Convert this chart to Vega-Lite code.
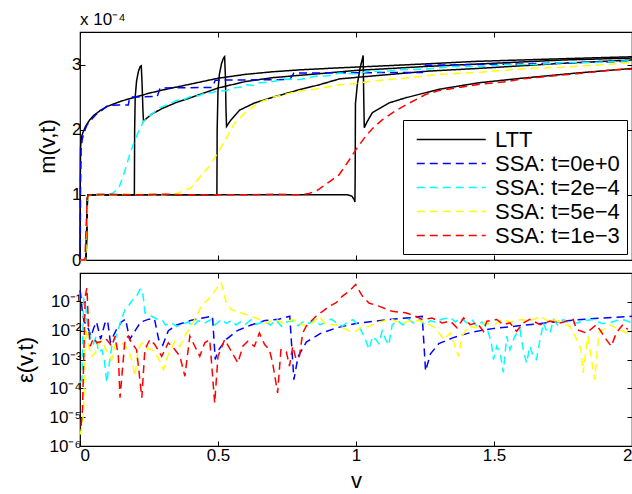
{
  "$schema": "https://vega.github.io/schema/vega-lite/v6.json",
  "padding": {"left": 14, "top": 9, "right": 0, "bottom": 0},
  "spacing": 13,
  "bounds": "flush",
  "config": {
    "font": "Liberation Sans",
    "view": {"stroke": "#000", "strokeWidth": 1.2},
    "axis": {"domain": false, "grid": false, "tickColor": "#000", "tickSize": -5, "tickWidth": 1, "labelColor": "#000", "labelFontSize": 17, "titleFontSize": 22, "titleFontWeight": "normal", "titleColor": "#000", "labelPadding": 4}
  },
  "datasets": {
    "top": [
      {"series":"LTT","t":"0","v":0,"m":0},{"series":"LTT","t":"0","v":0.0005,"m":0.6},{"series":"LTT","t":"0","v":0.001,"m":1.2},{"series":"LTT","t":"0","v":0.002,"m":1.72},{"series":"LTT","t":"0","v":0.004,"m":1.84},{"series":"LTT","t":"0","v":0.007,"m":1.91},{"series":"LTT","t":"0","v":0.01,"m":1.95},{"series":"LTT","t":"0","v":0.02,"m":2.05},{"series":"LTT","t":"0","v":0.035,"m":2.15},{"series":"LTT","t":"0","v":0.05,"m":2.22},{"series":"LTT","t":"0","v":0.075,"m":2.3},{"series":"LTT","t":"0","v":0.1,"m":2.36},{"series":"LTT","t":"0","v":0.15,"m":2.44},{"series":"LTT","t":"0","v":0.2,"m":2.5},{"series":"LTT","t":"0","v":0.25,"m":2.56},{"series":"LTT","t":"0","v":0.3,"m":2.61},{"series":"LTT","t":"0","v":0.4,"m":2.7},{"series":"LTT","t":"0","v":0.5,"m":2.79},{"series":"LTT","t":"0","v":0.6,"m":2.85},{"series":"LTT","t":"0","v":0.7,"m":2.89},{"series":"LTT","t":"0","v":0.8,"m":2.92},{"series":"LTT","t":"0","v":0.94,"m":2.95},{"series":"LTT","t":"0","v":1.1,"m":2.98},{"series":"LTT","t":"0","v":1.25,"m":3.01},{"series":"LTT","t":"0","v":1.44,"m":3.05},{"series":"LTT","t":"0","v":1.75,"m":3.09},{"series":"LTT","t":"0","v":2.0,"m":3.12},
      {"series":"LTT","t":"2e-4","v":0,"m":0},{"series":"LTT","t":"2e-4","v":0.022,"m":0},{"series":"LTT","t":"2e-4","v":0.025,"m":0.6},{"series":"LTT","t":"2e-4","v":0.027,"m":0.95},{"series":"LTT","t":"2e-4","v":0.03,"m":1.0},{"series":"LTT","t":"2e-4","v":0.197,"m":1.0},{"series":"LTT","t":"2e-4","v":0.198,"m":2.0},{"series":"LTT","t":"2e-4","v":0.2,"m":2.5},{"series":"LTT","t":"2e-4","v":0.205,"m":2.75},{"series":"LTT","t":"2e-4","v":0.212,"m":2.9},{"series":"LTT","t":"2e-4","v":0.218,"m":2.97},{"series":"LTT","t":"2e-4","v":0.222,"m":2.98},{"series":"LTT","t":"2e-4","v":0.225,"m":2.7},{"series":"LTT","t":"2e-4","v":0.228,"m":2.3},{"series":"LTT","t":"2e-4","v":0.23,"m":2.13},{"series":"LTT","t":"2e-4","v":0.24,"m":2.17},{"series":"LTT","t":"2e-4","v":0.26,"m":2.24},{"series":"LTT","t":"2e-4","v":0.3,"m":2.33},{"series":"LTT","t":"2e-4","v":0.35,"m":2.42},{"series":"LTT","t":"2e-4","v":0.4,"m":2.49},{"series":"LTT","t":"2e-4","v":0.5,"m":2.64},{"series":"LTT","t":"2e-4","v":0.6,"m":2.74},{"series":"LTT","t":"2e-4","v":0.7,"m":2.8},{"series":"LTT","t":"2e-4","v":0.867,"m":2.86},{"series":"LTT","t":"2e-4","v":1.0,"m":2.91},{"series":"LTT","t":"2e-4","v":1.25,"m":2.97},{"series":"LTT","t":"2e-4","v":1.5,"m":3.02},{"series":"LTT","t":"2e-4","v":1.75,"m":3.07},{"series":"LTT","t":"2e-4","v":2.0,"m":3.1},
      {"series":"LTT","t":"5e-4","v":0,"m":0},{"series":"LTT","t":"5e-4","v":0.022,"m":0},{"series":"LTT","t":"5e-4","v":0.025,"m":0.6},{"series":"LTT","t":"5e-4","v":0.027,"m":0.95},{"series":"LTT","t":"5e-4","v":0.03,"m":1.0},{"series":"LTT","t":"5e-4","v":0.496,"m":1.0},{"series":"LTT","t":"5e-4","v":0.497,"m":2.0},{"series":"LTT","t":"5e-4","v":0.5,"m":2.6},{"series":"LTT","t":"5e-4","v":0.505,"m":2.85},{"series":"LTT","t":"5e-4","v":0.513,"m":3.02},{"series":"LTT","t":"5e-4","v":0.52,"m":3.1},{"series":"LTT","t":"5e-4","v":0.524,"m":3.12},{"series":"LTT","t":"5e-4","v":0.527,"m":2.8},{"series":"LTT","t":"5e-4","v":0.529,"m":2.3},{"series":"LTT","t":"5e-4","v":0.531,"m":2.05},{"series":"LTT","t":"5e-4","v":0.545,"m":2.14},{"series":"LTT","t":"5e-4","v":0.578,"m":2.3},{"series":"LTT","t":"5e-4","v":0.632,"m":2.41},{"series":"LTT","t":"5e-4","v":0.7,"m":2.5},{"series":"LTT","t":"5e-4","v":0.8,"m":2.62},{"series":"LTT","t":"5e-4","v":0.867,"m":2.69},{"series":"LTT","t":"5e-4","v":0.94,"m":2.78},{"series":"LTT","t":"5e-4","v":1.1,"m":2.84},{"series":"LTT","t":"5e-4","v":1.264,"m":2.9},{"series":"LTT","t":"5e-4","v":1.44,"m":2.94},{"series":"LTT","t":"5e-4","v":1.75,"m":3.02},{"series":"LTT","t":"5e-4","v":2.0,"m":3.07},
      {"series":"LTT","t":"1e-3","v":0,"m":0},{"series":"LTT","t":"1e-3","v":0.022,"m":0},{"series":"LTT","t":"1e-3","v":0.025,"m":0.6},{"series":"LTT","t":"1e-3","v":0.027,"m":0.95},{"series":"LTT","t":"1e-3","v":0.03,"m":1.0},{"series":"LTT","t":"1e-3","v":0.97,"m":1.0},{"series":"LTT","t":"1e-3","v":0.985,"m":0.98},{"series":"LTT","t":"1e-3","v":0.993,"m":0.93},{"series":"LTT","t":"1e-3","v":0.996,"m":0.89},{"series":"LTT","t":"1e-3","v":0.997,"m":1.3},{"series":"LTT","t":"1e-3","v":0.998,"m":2.4},{"series":"LTT","t":"1e-3","v":1.005,"m":2.7},{"series":"LTT","t":"1e-3","v":1.015,"m":2.95},{"series":"LTT","t":"1e-3","v":1.026,"m":3.14},{"series":"LTT","t":"1e-3","v":1.028,"m":2.5},{"series":"LTT","t":"1e-3","v":1.03,"m":2.03},{"series":"LTT","t":"1e-3","v":1.04,"m":2.12},{"series":"LTT","t":"1e-3","v":1.059,"m":2.26},{"series":"LTT","t":"1e-3","v":1.119,"m":2.41},{"series":"LTT","t":"1e-3","v":1.18,"m":2.49},{"series":"LTT","t":"1e-3","v":1.3,"m":2.62},{"series":"LTT","t":"1e-3","v":1.444,"m":2.72},{"series":"LTT","t":"1e-3","v":1.6,"m":2.79},{"series":"LTT","t":"1e-3","v":1.8,"m":2.87},{"series":"LTT","t":"1e-3","v":2.0,"m":2.94},
      {"series":"SSA: t=0e+0","v":0,"m":0},{"series":"SSA: t=0e+0","v":0.001,"m":0.3},{"series":"SSA: t=0e+0","v":0.002,"m":1.2},{"series":"SSA: t=0e+0","v":0.004,"m":1.7},{"series":"SSA: t=0e+0","v":0.008,"m":1.85},{"series":"SSA: t=0e+0","v":0.015,"m":1.97},{"series":"SSA: t=0e+0","v":0.025,"m":2.07},{"series":"SSA: t=0e+0","v":0.04,"m":2.15},{"series":"SSA: t=0e+0","v":0.06,"m":2.24},{"series":"SSA: t=0e+0","v":0.08,"m":2.3},{"series":"SSA: t=0e+0","v":0.1,"m":2.37},{"series":"SSA: t=0e+0","v":0.14,"m":2.38},{"series":"SSA: t=0e+0","v":0.175,"m":2.38},{"series":"SSA: t=0e+0","v":0.18,"m":2.5},{"series":"SSA: t=0e+0","v":0.28,"m":2.51},{"series":"SSA: t=0e+0","v":0.29,"m":2.64},{"series":"SSA: t=0e+0","v":0.48,"m":2.65},{"series":"SSA: t=0e+0","v":0.49,"m":2.76},{"series":"SSA: t=0e+0","v":0.76,"m":2.77},{"series":"SSA: t=0e+0","v":0.775,"m":2.87},{"series":"SSA: t=0e+0","v":1.24,"m":2.88},{"series":"SSA: t=0e+0","v":1.252,"m":2.99},{"series":"SSA: t=0e+0","v":1.6,"m":3.01},{"series":"SSA: t=0e+0","v":2.0,"m":3.05},
      {"series":"SSA: t=2e−4","v":0,"m":0},{"series":"SSA: t=2e−4","v":0.02,"m":0},{"series":"SSA: t=2e−4","v":0.024,"m":0.5},{"series":"SSA: t=2e−4","v":0.028,"m":0.97},{"series":"SSA: t=2e−4","v":0.035,"m":1.0},{"series":"SSA: t=2e−4","v":0.06,"m":1.01},{"series":"SSA: t=2e−4","v":0.1,"m":1.0},{"series":"SSA: t=2e−4","v":0.12,"m":1.03},{"series":"SSA: t=2e−4","v":0.14,"m":1.1},{"series":"SSA: t=2e−4","v":0.16,"m":1.33},{"series":"SSA: t=2e−4","v":0.18,"m":1.62},{"series":"SSA: t=2e−4","v":0.195,"m":1.8},{"series":"SSA: t=2e−4","v":0.21,"m":1.95},{"series":"SSA: t=2e−4","v":0.23,"m":2.13},{"series":"SSA: t=2e−4","v":0.26,"m":2.24},{"series":"SSA: t=2e−4","v":0.29,"m":2.34},{"series":"SSA: t=2e−4","v":0.32,"m":2.39},{"series":"SSA: t=2e−4","v":0.35,"m":2.45},{"series":"SSA: t=2e−4","v":0.38,"m":2.47},{"series":"SSA: t=2e−4","v":0.4,"m":2.51},{"series":"SSA: t=2e−4","v":0.43,"m":2.52},{"series":"SSA: t=2e−4","v":0.45,"m":2.56},{"series":"SSA: t=2e−4","v":0.48,"m":2.57},{"series":"SSA: t=2e−4","v":0.5,"m":2.6},{"series":"SSA: t=2e−4","v":0.53,"m":2.6},{"series":"SSA: t=2e−4","v":0.55,"m":2.64},{"series":"SSA: t=2e−4","v":0.58,"m":2.65},{"series":"SSA: t=2e−4","v":0.6,"m":2.69},{"series":"SSA: t=2e−4","v":0.63,"m":2.68},{"series":"SSA: t=2e−4","v":0.65,"m":2.72},{"series":"SSA: t=2e−4","v":0.7,"m":2.74},{"series":"SSA: t=2e−4","v":0.75,"m":2.78},{"series":"SSA: t=2e−4","v":0.8,"m":2.77},{"series":"SSA: t=2e−4","v":0.85,"m":2.82},{"series":"SSA: t=2e−4","v":0.9,"m":2.83},{"series":"SSA: t=2e−4","v":0.94,"m":2.87},{"series":"SSA: t=2e−4","v":1.0,"m":2.86},{"series":"SSA: t=2e−4","v":1.05,"m":2.9},{"series":"SSA: t=2e−4","v":1.1,"m":2.89},{"series":"SSA: t=2e−4","v":1.15,"m":2.92},{"series":"SSA: t=2e−4","v":1.25,"m":2.93},{"series":"SSA: t=2e−4","v":1.35,"m":2.97},{"series":"SSA: t=2e−4","v":1.45,"m":2.97},{"series":"SSA: t=2e−4","v":1.55,"m":3.0},{"series":"SSA: t=2e−4","v":1.65,"m":3.0},{"series":"SSA: t=2e−4","v":1.75,"m":3.03},{"series":"SSA: t=2e−4","v":1.85,"m":3.03},{"series":"SSA: t=2e−4","v":2.0,"m":3.06},
      {"series":"SSA: t=5e−4","v":0,"m":0},{"series":"SSA: t=5e−4","v":0.02,"m":0},{"series":"SSA: t=5e−4","v":0.024,"m":0.5},{"series":"SSA: t=5e−4","v":0.028,"m":0.97},{"series":"SSA: t=5e−4","v":0.035,"m":1.0},{"series":"SSA: t=5e−4","v":0.1,"m":1.0},{"series":"SSA: t=5e−4","v":0.2,"m":1.01},{"series":"SSA: t=5e−4","v":0.3,"m":1.0},{"series":"SSA: t=5e−4","v":0.35,"m":1.02},{"series":"SSA: t=5e−4","v":0.4,"m":1.1},{"series":"SSA: t=5e−4","v":0.43,"m":1.25},{"series":"SSA: t=5e−4","v":0.47,"m":1.45},{"series":"SSA: t=5e−4","v":0.5,"m":1.65},{"series":"SSA: t=5e−4","v":0.53,"m":1.87},{"series":"SSA: t=5e−4","v":0.56,"m":2.1},{"series":"SSA: t=5e−4","v":0.6,"m":2.27},{"series":"SSA: t=5e−4","v":0.65,"m":2.42},{"series":"SSA: t=5e−4","v":0.7,"m":2.5},{"series":"SSA: t=5e−4","v":0.75,"m":2.55},{"series":"SSA: t=5e−4","v":0.8,"m":2.6},{"series":"SSA: t=5e−4","v":0.85,"m":2.62},{"series":"SSA: t=5e−4","v":0.94,"m":2.69},{"series":"SSA: t=5e−4","v":1.0,"m":2.71},{"series":"SSA: t=5e−4","v":1.06,"m":2.75},{"series":"SSA: t=5e−4","v":1.12,"m":2.77},{"series":"SSA: t=5e−4","v":1.2,"m":2.8},{"series":"SSA: t=5e−4","v":1.3,"m":2.85},{"series":"SSA: t=5e−4","v":1.44,"m":2.88},{"series":"SSA: t=5e−4","v":1.5,"m":2.9},{"series":"SSA: t=5e−4","v":1.62,"m":2.94},{"series":"SSA: t=5e−4","v":1.75,"m":2.96},{"series":"SSA: t=5e−4","v":1.9,"m":3.0},{"series":"SSA: t=5e−4","v":2.0,"m":3.03},
      {"series":"SSA: t=1e−3","v":0,"m":0},{"series":"SSA: t=1e−3","v":0.018,"m":0},{"series":"SSA: t=1e−3","v":0.022,"m":0.5},{"series":"SSA: t=1e−3","v":0.027,"m":0.97},{"series":"SSA: t=1e−3","v":0.035,"m":1.0},{"series":"SSA: t=1e−3","v":0.1,"m":1.01},{"series":"SSA: t=1e−3","v":0.2,"m":1.0},{"series":"SSA: t=1e−3","v":0.3,"m":1.01},{"series":"SSA: t=1e−3","v":0.4,"m":1.0},{"series":"SSA: t=1e−3","v":0.5,"m":1.0},{"series":"SSA: t=1e−3","v":0.6,"m":1.0},{"series":"SSA: t=1e−3","v":0.7,"m":1.01},{"series":"SSA: t=1e−3","v":0.8,"m":1.0},{"series":"SSA: t=1e−3","v":0.83,"m":1.02},{"series":"SSA: t=1e−3","v":0.86,"m":1.07},{"series":"SSA: t=1e−3","v":0.88,"m":1.13},{"series":"SSA: t=1e−3","v":0.91,"m":1.22},{"series":"SSA: t=1e−3","v":0.939,"m":1.31},{"series":"SSA: t=1e−3","v":0.97,"m":1.5},{"series":"SSA: t=1e−3","v":0.999,"m":1.69},{"series":"SSA: t=1e−3","v":1.035,"m":1.9},{"series":"SSA: t=1e−3","v":1.06,"m":2.02},{"series":"SSA: t=1e−3","v":1.095,"m":2.15},{"series":"SSA: t=1e−3","v":1.14,"m":2.28},{"series":"SSA: t=1e−3","v":1.18,"m":2.38},{"series":"SSA: t=1e−3","v":1.252,"m":2.54},{"series":"SSA: t=1e−3","v":1.3,"m":2.6},{"series":"SSA: t=1e−3","v":1.36,"m":2.64},{"series":"SSA: t=1e−3","v":1.45,"m":2.7},{"series":"SSA: t=1e−3","v":1.55,"m":2.74},{"series":"SSA: t=1e−3","v":1.6,"m":2.78},{"series":"SSA: t=1e−3","v":1.7,"m":2.82},{"series":"SSA: t=1e−3","v":1.8,"m":2.86},{"series":"SSA: t=1e−3","v":1.935,"m":2.92},{"series":"SSA: t=1e−3","v":2.0,"m":2.93}
    ],
    "err": [
      {"series":"SSA: t=0e+0","v":0.0,"e":0.25},{"series":"SSA: t=0e+0","v":0.003,"e":0.16},{"series":"SSA: t=0e+0","v":0.008,"e":0.05},{"series":"SSA: t=0e+0","v":0.015,"e":0.02},{"series":"SSA: t=0e+0","v":0.025,"e":0.016},{"series":"SSA: t=0e+0","v":0.04,"e":0.0063},{"series":"SSA: t=0e+0","v":0.05,"e":0.0126},{"series":"SSA: t=0e+0","v":0.06,"e":0.02},{"series":"SSA: t=0e+0","v":0.075,"e":0.005},{"series":"SSA: t=0e+0","v":0.09,"e":0.0178},{"series":"SSA: t=0e+0","v":0.1,"e":0.0224},{"series":"SSA: t=0e+0","v":0.11,"e":0.004},{"series":"SSA: t=0e+0","v":0.13,"e":0.01},{"series":"SSA: t=0e+0","v":0.15,"e":0.02},{"series":"SSA: t=0e+0","v":0.165,"e":0.0251},{"series":"SSA: t=0e+0","v":0.18,"e":0.005},{"series":"SSA: t=0e+0","v":0.2,"e":0.01},{"series":"SSA: t=0e+0","v":0.22,"e":0.02},{"series":"SSA: t=0e+0","v":0.25,"e":0.0251},{"series":"SSA: t=0e+0","v":0.27,"e":0.0251},{"series":"SSA: t=0e+0","v":0.285,"e":0.005},{"series":"SSA: t=0e+0","v":0.3,"e":0.00316},{"series":"SSA: t=0e+0","v":0.32,"e":0.01},{"series":"SSA: t=0e+0","v":0.35,"e":0.0158},{"series":"SSA: t=0e+0","v":0.4,"e":0.0224},{"series":"SSA: t=0e+0","v":0.45,"e":0.0282},{"series":"SSA: t=0e+0","v":0.48,"e":0.0316},{"series":"SSA: t=0e+0","v":0.49,"e":0.001},{"series":"SSA: t=0e+0","v":0.5,"e":0.002},{"series":"SSA: t=0e+0","v":0.53,"e":0.005},{"series":"SSA: t=0e+0","v":0.57,"e":0.01},{"series":"SSA: t=0e+0","v":0.62,"e":0.0158},{"series":"SSA: t=0e+0","v":0.67,"e":0.0224},{"series":"SSA: t=0e+0","v":0.72,"e":0.0251},{"series":"SSA: t=0e+0","v":0.76,"e":0.0316},{"series":"SSA: t=0e+0","v":0.775,"e":0.0002},{"series":"SSA: t=0e+0","v":0.79,"e":0.00126},{"series":"SSA: t=0e+0","v":0.82,"e":0.004},{"series":"SSA: t=0e+0","v":0.87,"e":0.0079},{"series":"SSA: t=0e+0","v":0.93,"e":0.0126},{"series":"SSA: t=0e+0","v":1.0,"e":0.0178},{"series":"SSA: t=0e+0","v":1.06,"e":0.0209},{"series":"SSA: t=0e+0","v":1.13,"e":0.0251},{"series":"SSA: t=0e+0","v":1.2,"e":0.0282},{"series":"SSA: t=0e+0","v":1.24,"e":0.0316},{"series":"SSA: t=0e+0","v":1.252,"e":0.0004},{"series":"SSA: t=0e+0","v":1.27,"e":0.00158},{"series":"SSA: t=0e+0","v":1.3,"e":0.00355},{"series":"SSA: t=0e+0","v":1.35,"e":0.00562},{"series":"SSA: t=0e+0","v":1.42,"e":0.0089},{"series":"SSA: t=0e+0","v":1.5,"e":0.012},{"series":"SSA: t=0e+0","v":1.6,"e":0.0151},{"series":"SSA: t=0e+0","v":1.7,"e":0.0191},{"series":"SSA: t=0e+0","v":1.8,"e":0.024},{"series":"SSA: t=0e+0","v":1.9,"e":0.0275},{"series":"SSA: t=0e+0","v":2.0,"e":0.0316},
      {"series":"SSA: t=2e−4","v":0.0,"e":0.000158},{"series":"SSA: t=2e−4","v":0.007,"e":0.0002},{"series":"SSA: t=2e−4","v":0.013,"e":0.126},{"series":"SSA: t=2e−4","v":0.019,"e":0.1},{"series":"SSA: t=2e−4","v":0.025,"e":0.0251},{"series":"SSA: t=2e−4","v":0.031,"e":0.01},{"series":"SSA: t=2e−4","v":0.04,"e":0.005},{"series":"SSA: t=2e−4","v":0.049,"e":0.00355},{"series":"SSA: t=2e−4","v":0.058,"e":0.0063},{"series":"SSA: t=2e−4","v":0.067,"e":0.00178},{"series":"SSA: t=2e−4","v":0.079,"e":0.00219},{"series":"SSA: t=2e−4","v":0.088,"e":0.001},{"series":"SSA: t=2e−4","v":0.097,"e":0.000158},{"series":"SSA: t=2e−4","v":0.103,"e":0.000447},{"series":"SSA: t=2e−4","v":0.115,"e":0.00288},{"series":"SSA: t=2e−4","v":0.127,"e":0.005},{"series":"SSA: t=2e−4","v":0.139,"e":0.011},{"series":"SSA: t=2e−4","v":0.15,"e":0.0251},{"series":"SSA: t=2e−4","v":0.163,"e":0.0537},{"series":"SSA: t=2e−4","v":0.175,"e":0.0708},{"series":"SSA: t=2e−4","v":0.187,"e":0.105},{"series":"SSA: t=2e−4","v":0.205,"e":0.158},{"series":"SSA: t=2e−4","v":0.217,"e":0.269},{"series":"SSA: t=2e−4","v":0.225,"e":0.269},{"series":"SSA: t=2e−4","v":0.23,"e":0.126},{"series":"SSA: t=2e−4","v":0.235,"e":0.0417},{"series":"SSA: t=2e−4","v":0.26,"e":0.0316},{"series":"SSA: t=2e−4","v":0.28,"e":0.0251},{"series":"SSA: t=2e−4","v":0.296,"e":0.0245},{"series":"SSA: t=2e−4","v":0.31,"e":0.0158},{"series":"SSA: t=2e−4","v":0.332,"e":0.0186},{"series":"SSA: t=2e−4","v":0.35,"e":0.0141},{"series":"SSA: t=2e−4","v":0.368,"e":0.0162},{"series":"SSA: t=2e−4","v":0.392,"e":0.02},{"series":"SSA: t=2e−4","v":0.41,"e":0.0141},{"series":"SSA: t=2e−4","v":0.428,"e":0.0224},{"series":"SSA: t=2e−4","v":0.45,"e":0.0178},{"series":"SSA: t=2e−4","v":0.476,"e":0.0245},{"series":"SSA: t=2e−4","v":0.49,"e":0.0158},{"series":"SSA: t=2e−4","v":0.512,"e":0.0245},{"series":"SSA: t=2e−4","v":0.53,"e":0.0178},{"series":"SSA: t=2e−4","v":0.548,"e":0.0224},{"series":"SSA: t=2e−4","v":0.566,"e":0.0158},{"series":"SSA: t=2e−4","v":0.584,"e":0.0209},{"series":"SSA: t=2e−4","v":0.6,"e":0.017},{"series":"SSA: t=2e−4","v":0.62,"e":0.024},{"series":"SSA: t=2e−4","v":0.64,"e":0.0166},{"series":"SSA: t=2e−4","v":0.669,"e":0.0214},{"series":"SSA: t=2e−4","v":0.69,"e":0.0158},{"series":"SSA: t=2e−4","v":0.71,"e":0.0234},{"series":"SSA: t=2e−4","v":0.73,"e":0.0141},{"series":"SSA: t=2e−4","v":0.75,"e":0.02},{"series":"SSA: t=2e−4","v":0.77,"e":0.0224},{"series":"SSA: t=2e−4","v":0.79,"e":0.0148},{"series":"SSA: t=2e−4","v":0.81,"e":0.0209},{"series":"SSA: t=2e−4","v":0.83,"e":0.0178},{"series":"SSA: t=2e−4","v":0.85,"e":0.024},{"series":"SSA: t=2e−4","v":0.87,"e":0.0158},{"series":"SSA: t=2e−4","v":0.89,"e":0.02},{"series":"SSA: t=2e−4","v":0.91,"e":0.0251},{"series":"SSA: t=2e−4","v":0.93,"e":0.0186},{"series":"SSA: t=2e−4","v":0.95,"e":0.0141},{"series":"SSA: t=2e−4","v":0.97,"e":0.02},{"series":"SSA: t=2e−4","v":0.99,"e":0.024},{"series":"SSA: t=2e−4","v":1.01,"e":0.0141},{"series":"SSA: t=2e−4","v":1.03,"e":0.0063},{"series":"SSA: t=2e−4","v":1.047,"e":0.00224},{"series":"SSA: t=2e−4","v":1.06,"e":0.0063},{"series":"SSA: t=2e−4","v":1.071,"e":0.005},{"series":"SSA: t=2e−4","v":1.083,"e":0.00355},{"series":"SSA: t=2e−4","v":1.095,"e":0.01},{"series":"SSA: t=2e−4","v":1.107,"e":0.005},{"series":"SSA: t=2e−4","v":1.119,"e":0.00316},{"series":"SSA: t=2e−4","v":1.131,"e":0.0158},{"series":"SSA: t=2e−4","v":1.15,"e":0.0224},{"series":"SSA: t=2e−4","v":1.17,"e":0.0158},{"series":"SSA: t=2e−4","v":1.19,"e":0.0251},{"series":"SSA: t=2e−4","v":1.21,"e":0.0178},{"series":"SSA: t=2e−4","v":1.23,"e":0.024},{"series":"SSA: t=2e−4","v":1.25,"e":0.0158},{"series":"SSA: t=2e−4","v":1.27,"e":0.0224},{"series":"SSA: t=2e−4","v":1.29,"e":0.0191},{"series":"SSA: t=2e−4","v":1.31,"e":0.0251},{"series":"SSA: t=2e−4","v":1.342,"e":0.0282},{"series":"SSA: t=2e−4","v":1.36,"e":0.02},{"series":"SSA: t=2e−4","v":1.378,"e":0.0282},{"series":"SSA: t=2e−4","v":1.402,"e":0.0186},{"series":"SSA: t=2e−4","v":1.42,"e":0.024},{"series":"SSA: t=2e−4","v":1.438,"e":0.0141},{"series":"SSA: t=2e−4","v":1.456,"e":0.02},{"series":"SSA: t=2e−4","v":1.474,"e":0.0126},{"series":"SSA: t=2e−4","v":1.49,"e":0.004},{"series":"SSA: t=2e−4","v":1.498,"e":0.001},{"series":"SSA: t=2e−4","v":1.51,"e":0.00288},{"series":"SSA: t=2e−4","v":1.522,"e":0.0017},{"series":"SSA: t=2e−4","v":1.534,"e":0.000355},{"series":"SSA: t=2e−4","v":1.546,"e":0.00646},{"series":"SSA: t=2e−4","v":1.558,"e":0.00219},{"series":"SSA: t=2e−4","v":1.575,"e":0.0063},{"series":"SSA: t=2e−4","v":1.594,"e":0.011},{"series":"SSA: t=2e−4","v":1.606,"e":0.00219},{"series":"SSA: t=2e−4","v":1.618,"e":0.00076},{"series":"SSA: t=2e−4","v":1.63,"e":0.00288},{"series":"SSA: t=2e−4","v":1.642,"e":0.00129},{"series":"SSA: t=2e−4","v":1.654,"e":0.001},{"series":"SSA: t=2e−4","v":1.665,"e":0.004},{"series":"SSA: t=2e−4","v":1.679,"e":0.0186},{"series":"SSA: t=2e−4","v":1.69,"e":0.01},{"series":"SSA: t=2e−4","v":1.703,"e":0.0083},{"series":"SSA: t=2e−4","v":1.715,"e":0.0245},{"series":"SSA: t=2e−4","v":1.73,"e":0.0158},{"series":"SSA: t=2e−4","v":1.751,"e":0.0245},{"series":"SSA: t=2e−4","v":1.775,"e":0.0178},{"series":"SSA: t=2e−4","v":1.799,"e":0.0186},{"series":"SSA: t=2e−4","v":1.83,"e":0.0224},{"series":"SSA: t=2e−4","v":1.859,"e":0.0245},{"series":"SSA: t=2e−4","v":1.89,"e":0.0178},{"series":"SSA: t=2e−4","v":1.919,"e":0.0186},{"series":"SSA: t=2e−4","v":1.945,"e":0.0224},{"series":"SSA: t=2e−4","v":1.967,"e":0.0245},{"series":"SSA: t=2e−4","v":2.0,"e":0.0186},
      {"series":"SSA: t=5e−4","v":0.0,"e":0.0000025},{"series":"SSA: t=5e−4","v":0.006,"e":0.000004},{"series":"SSA: t=5e−4","v":0.013,"e":0.0000138},{"series":"SSA: t=5e−4","v":0.019,"e":0.0063},{"series":"SSA: t=5e−4","v":0.022,"e":0.01},{"series":"SSA: t=5e−4","v":0.031,"e":0.00288},{"series":"SSA: t=5e−4","v":0.043,"e":0.00129},{"series":"SSA: t=5e−4","v":0.055,"e":0.0017},{"series":"SSA: t=5e−4","v":0.067,"e":0.00331},{"series":"SSA: t=5e−4","v":0.079,"e":0.0049},{"series":"SSA: t=5e−4","v":0.091,"e":0.00251},{"series":"SSA: t=5e−4","v":0.115,"e":0.001},{"series":"SSA: t=5e−4","v":0.127,"e":0.00331},{"series":"SSA: t=5e−4","v":0.151,"e":0.0038},{"series":"SSA: t=5e−4","v":0.175,"e":0.00219},{"series":"SSA: t=5e−4","v":0.187,"e":0.001},{"series":"SSA: t=5e−4","v":0.199,"e":0.000263},{"series":"SSA: t=5e−4","v":0.211,"e":0.00219},{"series":"SSA: t=5e−4","v":0.224,"e":0.0038},{"series":"SSA: t=5e−4","v":0.241,"e":0.00251},{"series":"SSA: t=5e−4","v":0.26,"e":0.00219},{"series":"SSA: t=5e−4","v":0.284,"e":0.00112},{"series":"SSA: t=5e−4","v":0.302,"e":0.000447},{"series":"SSA: t=5e−4","v":0.32,"e":0.00148},{"series":"SSA: t=5e−4","v":0.344,"e":0.00427},{"series":"SSA: t=5e−4","v":0.362,"e":0.00282},{"series":"SSA: t=5e−4","v":0.38,"e":0.00646},{"series":"SSA: t=5e−4","v":0.398,"e":0.0126},{"series":"SSA: t=5e−4","v":0.416,"e":0.0245},{"series":"SSA: t=5e−4","v":0.44,"e":0.0708},{"series":"SSA: t=5e−4","v":0.476,"e":0.158},{"series":"SSA: t=5e−4","v":0.5,"e":0.347},{"series":"SSA: t=5e−4","v":0.512,"e":0.457},{"series":"SSA: t=5e−4","v":0.53,"e":0.0912},{"series":"SSA: t=5e−4","v":0.548,"e":0.0537},{"series":"SSA: t=5e−4","v":0.584,"e":0.0417},{"series":"SSA: t=5e−4","v":0.62,"e":0.0316},{"series":"SSA: t=5e−4","v":0.65,"e":0.0245},{"series":"SSA: t=5e−4","v":0.674,"e":0.0186},{"series":"SSA: t=5e−4","v":0.711,"e":0.0245},{"series":"SSA: t=5e−4","v":0.735,"e":0.0186},{"series":"SSA: t=5e−4","v":0.771,"e":0.0245},{"series":"SSA: t=5e−4","v":0.807,"e":0.0158},{"series":"SSA: t=5e−4","v":0.831,"e":0.0141},{"series":"SSA: t=5e−4","v":0.867,"e":0.0316},{"series":"SSA: t=5e−4","v":0.891,"e":0.0162},{"series":"SSA: t=5e−4","v":0.927,"e":0.0162},{"series":"SSA: t=5e−4","v":0.951,"e":0.0126},{"series":"SSA: t=5e−4","v":0.975,"e":0.01},{"series":"SSA: t=5e−4","v":0.999,"e":0.0095},{"series":"SSA: t=5e−4","v":1.023,"e":0.0141},{"series":"SSA: t=5e−4","v":1.047,"e":0.0141},{"series":"SSA: t=5e−4","v":1.083,"e":0.02},{"series":"SSA: t=5e−4","v":1.131,"e":0.0245},{"series":"SSA: t=5e−4","v":1.167,"e":0.0178},{"series":"SSA: t=5e−4","v":1.192,"e":0.0214},{"series":"SSA: t=5e−4","v":1.228,"e":0.0224},{"series":"SSA: t=5e−4","v":1.252,"e":0.0186},{"series":"SSA: t=5e−4","v":1.288,"e":0.0126},{"series":"SSA: t=5e−4","v":1.318,"e":0.0049},{"series":"SSA: t=5e−4","v":1.342,"e":0.0083},{"series":"SSA: t=5e−4","v":1.372,"e":0.00126},{"series":"SSA: t=5e−4","v":1.384,"e":0.00646},{"series":"SSA: t=5e−4","v":1.408,"e":0.0141},{"series":"SSA: t=5e−4","v":1.438,"e":0.0126},{"series":"SSA: t=5e−4","v":1.47,"e":0.0186},{"series":"SSA: t=5e−4","v":1.5,"e":0.0158},{"series":"SSA: t=5e−4","v":1.53,"e":0.0245},{"series":"SSA: t=5e−4","v":1.56,"e":0.02},{"series":"SSA: t=5e−4","v":1.6,"e":0.0245},{"series":"SSA: t=5e−4","v":1.63,"e":0.0209},{"series":"SSA: t=5e−4","v":1.667,"e":0.0316},{"series":"SSA: t=5e−4","v":1.7,"e":0.02},{"series":"SSA: t=5e−4","v":1.715,"e":0.0245},{"series":"SSA: t=5e−4","v":1.75,"e":0.0178},{"series":"SSA: t=5e−4","v":1.775,"e":0.0141},{"series":"SSA: t=5e−4","v":1.8,"e":0.0049},{"series":"SSA: t=5e−4","v":1.815,"e":0.00219},{"series":"SSA: t=5e−4","v":1.823,"e":0.00034},{"series":"SSA: t=5e−4","v":1.84,"e":0.00646},{"series":"SSA: t=5e−4","v":1.855,"e":0.00076},{"series":"SSA: t=5e−4","v":1.865,"e":0.0002},{"series":"SSA: t=5e−4","v":1.88,"e":0.0083},{"series":"SSA: t=5e−4","v":1.92,"e":0.0162},{"series":"SSA: t=5e−4","v":1.95,"e":0.011},{"series":"SSA: t=5e−4","v":1.985,"e":0.0083},
      {"series":"SSA: t=1e−3","v":0.004,"e":0.000005},{"series":"SSA: t=1e−3","v":0.009,"e":0.000018},{"series":"SSA: t=1e−3","v":0.019,"e":0.158},{"series":"SSA: t=1e−3","v":0.025,"e":0.302},{"series":"SSA: t=1e−3","v":0.031,"e":0.0141},{"series":"SSA: t=1e−3","v":0.037,"e":0.00288},{"series":"SSA: t=1e−3","v":0.049,"e":0.00562},{"series":"SSA: t=1e−3","v":0.061,"e":0.0038},{"series":"SSA: t=1e−3","v":0.079,"e":0.00427},{"series":"SSA: t=1e−3","v":0.097,"e":0.0049},{"series":"SSA: t=1e−3","v":0.115,"e":0.00288},{"series":"SSA: t=1e−3","v":0.127,"e":0.00646},{"series":"SSA: t=1e−3","v":0.139,"e":0.00129},{"series":"SSA: t=1e−3","v":0.145,"e":0.000047},{"series":"SSA: t=1e−3","v":0.163,"e":0.0049},{"series":"SSA: t=1e−3","v":0.175,"e":0.00646},{"series":"SSA: t=1e−3","v":0.187,"e":0.0038},{"series":"SSA: t=1e−3","v":0.205,"e":0.00219},{"series":"SSA: t=1e−3","v":0.224,"e":0.000047},{"series":"SSA: t=1e−3","v":0.235,"e":0.00219},{"series":"SSA: t=1e−3","v":0.253,"e":0.0049},{"series":"SSA: t=1e−3","v":0.271,"e":0.00331},{"series":"SSA: t=1e−3","v":0.296,"e":0.00129},{"series":"SSA: t=1e−3","v":0.32,"e":0.0038},{"series":"SSA: t=1e−3","v":0.344,"e":0.00219},{"series":"SSA: t=1e−3","v":0.362,"e":0.00129},{"series":"SSA: t=1e−3","v":0.38,"e":0.000263},{"series":"SSA: t=1e−3","v":0.398,"e":0.00646},{"series":"SSA: t=1e−3","v":0.416,"e":0.00288},{"series":"SSA: t=1e−3","v":0.434,"e":0.00129},{"series":"SSA: t=1e−3","v":0.452,"e":0.0038},{"series":"SSA: t=1e−3","v":0.47,"e":0.0049},{"series":"SSA: t=1e−3","v":0.488,"e":0.000031},{"series":"SSA: t=1e−3","v":0.5,"e":0.00129},{"series":"SSA: t=1e−3","v":0.524,"e":0.0049},{"series":"SSA: t=1e−3","v":0.548,"e":0.00195},{"series":"SSA: t=1e−3","v":0.572,"e":0.00076},{"series":"SSA: t=1e−3","v":0.59,"e":0.00288},{"series":"SSA: t=1e−3","v":0.608,"e":0.00427},{"series":"SSA: t=1e−3","v":0.632,"e":0.00288},{"series":"SSA: t=1e−3","v":0.65,"e":0.0083},{"series":"SSA: t=1e−3","v":0.669,"e":0.00331},{"series":"SSA: t=1e−3","v":0.686,"e":0.00219},{"series":"SSA: t=1e−3","v":0.698,"e":0.00076},{"series":"SSA: t=1e−3","v":0.716,"e":0.000069},{"series":"SSA: t=1e−3","v":0.728,"e":0.00219},{"series":"SSA: t=1e−3","v":0.747,"e":0.00195},{"series":"SSA: t=1e−3","v":0.759,"e":0.00059},{"series":"SSA: t=1e−3","v":0.771,"e":0.00288},{"series":"SSA: t=1e−3","v":0.783,"e":0.001},{"series":"SSA: t=1e−3","v":0.795,"e":0.00129},{"series":"SSA: t=1e−3","v":0.807,"e":0.0083},{"series":"SSA: t=1e−3","v":0.819,"e":0.0141},{"series":"SSA: t=1e−3","v":0.831,"e":0.0186},{"series":"SSA: t=1e−3","v":0.855,"e":0.0316},{"series":"SSA: t=1e−3","v":0.879,"e":0.0468},{"series":"SSA: t=1e−3","v":0.903,"e":0.0708},{"series":"SSA: t=1e−3","v":0.927,"e":0.0912},{"series":"SSA: t=1e−3","v":0.951,"e":0.158},{"series":"SSA: t=1e−3","v":0.975,"e":0.234},{"series":"SSA: t=1e−3","v":0.999,"e":0.398},{"series":"SSA: t=1e−3","v":1.023,"e":0.158},{"series":"SSA: t=1e−3","v":1.047,"e":0.0912},{"series":"SSA: t=1e−3","v":1.083,"e":0.0708},{"series":"SSA: t=1e−3","v":1.131,"e":0.0468},{"series":"SSA: t=1e−3","v":1.18,"e":0.0417},{"series":"SSA: t=1e−3","v":1.216,"e":0.0316},{"series":"SSA: t=1e−3","v":1.24,"e":0.0245},{"series":"SSA: t=1e−3","v":1.276,"e":0.0275},{"series":"SSA: t=1e−3","v":1.312,"e":0.0186},{"series":"SSA: t=1e−3","v":1.342,"e":0.0214},{"series":"SSA: t=1e−3","v":1.366,"e":0.0126},{"series":"SSA: t=1e−3","v":1.39,"e":0.0275},{"series":"SSA: t=1e−3","v":1.414,"e":0.0162},{"series":"SSA: t=1e−3","v":1.438,"e":0.0186},{"series":"SSA: t=1e−3","v":1.462,"e":0.0095},{"series":"SSA: t=1e−3","v":1.474,"e":0.0214},{"series":"SSA: t=1e−3","v":1.51,"e":0.0245},{"series":"SSA: t=1e−3","v":1.534,"e":0.0162},{"series":"SSA: t=1e−3","v":1.558,"e":0.0186},{"series":"SSA: t=1e−3","v":1.582,"e":0.0095},{"series":"SSA: t=1e−3","v":1.606,"e":0.0186},{"series":"SSA: t=1e−3","v":1.63,"e":0.0245},{"series":"SSA: t=1e−3","v":1.667,"e":0.0162},{"series":"SSA: t=1e−3","v":1.703,"e":0.0214},{"series":"SSA: t=1e−3","v":1.739,"e":0.0186},{"series":"SSA: t=1e−3","v":1.787,"e":0.0245},{"series":"SSA: t=1e−3","v":1.799,"e":0.011},{"series":"SSA: t=1e−3","v":1.835,"e":0.0083},{"series":"SSA: t=1e−3","v":1.871,"e":0.0162},{"series":"SSA: t=1e−3","v":1.907,"e":0.0049},{"series":"SSA: t=1e−3","v":1.925,"e":0.00288},{"series":"SSA: t=1e−3","v":1.943,"e":0.0083},{"series":"SSA: t=1e−3","v":1.967,"e":0.0162},{"series":"SSA: t=1e−3","v":1.985,"e":0.011}
    ]
  },
  "resolve": {"scale": {"color": "independent", "strokeDash": "independent"}},
  "vconcat": [
    {
      "width": 552,
      "height": 228,
      "title": {"text": "x 10⁻⁴", "anchor": "start", "frame": "group", "fontSize": 17, "fontWeight": "normal", "offset": 3, "color": "#000"},
      "data": {"name": "top"},
      "layer": [
        {
          "transform": [{"filter": "datum.series === 'LTT'"}],
          "mark": {"type": "line", "strokeWidth": 1.5},
          "encoding": {
            "x": {"field": "v", "type": "quantitative", "scale": {"domain": [0, 2], "nice": false}, "axis": {"orient": "bottom", "values": [0, 0.5, 1, 1.5, 2], "labels": false, "title": null, "minExtent": 0, "maxExtent": 0}},
            "y": {"field": "m", "type": "quantitative", "scale": {"domain": [0, 3.5], "nice": false}, "axis": {"values": [0, 1, 2, 3], "title": "m(v,t)", "titlePadding": 12}},
            "color": {"field": "series", "type": "nominal", "scale": {"domain": ["LTT", "SSA: t=0e+0", "SSA: t=2e−4", "SSA: t=5e−4", "SSA: t=1e−3"], "range": ["#000000", "#0000ff", "#00ffff", "#ffff00", "#ff0000"]}, "legend": {"title": null, "orient": "none", "legendX": 323, "legendY": 88, "strokeColor": "#000", "fillColor": "#fff", "padding": 7, "labelFontSize": 22, "labelColor": "#000", "symbolType": "M-0.5,0H5.5", "symbolSize": 529, "symbolStrokeWidth": 1.5, "labelOffset": 60, "rowPadding": 0, "labelLimit": 300}},
            "strokeDash": {"field": "series", "type": "nominal", "scale": {"domain": ["LTT", "SSA: t=0e+0", "SSA: t=2e−4", "SSA: t=5e−4", "SSA: t=1e−3"], "range": [[1, 0], [8, 5], [8, 5], [8, 5], [8, 5]]}, "legend": {"title": null, "orient": "none", "legendX": 323, "legendY": 88, "strokeColor": "#000", "fillColor": "#fff", "padding": 7, "labelFontSize": 22, "labelColor": "#000", "symbolType": "M-0.5,0H5.5", "symbolSize": 529, "symbolStrokeWidth": 1.5, "labelOffset": 60, "rowPadding": 0, "labelLimit": 300}},
            "detail": {"field": "t"}
          }
        },
        {
          "transform": [{"filter": "datum.series !== 'LTT'"}],
          "mark": {"type": "line", "strokeWidth": 1.5},
          "encoding": {
            "x": {"field": "v", "type": "quantitative", "axis": null},
            "y": {"field": "m", "type": "quantitative", "axis": null},
            "color": {"field": "series", "type": "nominal"},
            "strokeDash": {"field": "series", "type": "nominal"}
          }
        },
        {
          "mark": {"type": "line", "opacity": 0},
          "encoding": {
            "x": {"field": "v", "type": "quantitative", "axis": {"orient": "top", "values": [0, 0.5, 1, 1.5, 2], "labels": false, "title": null, "minExtent": 0, "maxExtent": 0}},
            "y": {"field": "m", "type": "quantitative", "axis": {"orient": "right", "values": [0, 1, 2, 3], "labels": false, "title": null, "minExtent": 0, "maxExtent": 0}},
            "detail": {"field": "series"}
          }
        }
      ],
      "resolve": {"axis": {"x": "independent", "y": "independent"}}
    },
    {
      "width": 552,
      "height": 173,
      "data": {"name": "err"},
      "layer": [
        {
          "mark": {"type": "line", "strokeWidth": 1.5, "strokeDash": [8, 5]},
          "encoding": {
            "x": {"field": "v", "type": "quantitative", "scale": {"domain": [0, 2], "nice": false}, "axis": {"values": [0, 0.5, 1, 1.5, 2], "format": "~g", "title": "v", "labelPadding": 6, "titlePadding": 7}},
            "y": {"field": "e", "type": "quantitative", "scale": {"type": "log", "domain": [0.000001, 1], "nice": false}, "axis": {"values": [0.000001, 0.00001, 0.0001, 0.001, 0.01, 0.1], "labelExpr": "'10' + ['', '⁻¹', '⁻²', '⁻³', '⁻⁴', '⁻⁵', '⁻⁶'][round(-log(datum.value) / LN10)]", "title": "ε(v,t)", "titlePadding": 11}},
            "color": {"field": "series", "type": "nominal", "scale": {"domain": ["SSA: t=0e+0", "SSA: t=2e−4", "SSA: t=5e−4", "SSA: t=1e−3"], "range": ["#0000ff", "#00ffff", "#ffff00", "#ff0000"]}, "legend": null}
          }
        },
        {
          "mark": {"type": "line", "opacity": 0},
          "encoding": {
            "x": {"field": "v", "type": "quantitative", "axis": {"orient": "top", "values": [0, 0.5, 1, 1.5, 2], "labels": false, "title": null, "minExtent": 0, "maxExtent": 0}},
            "y": {"field": "e", "type": "quantitative", "axis": {"orient": "right", "values": [0.000001, 0.00001, 0.0001, 0.001, 0.01, 0.1], "labels": false, "title": null, "minExtent": 0, "maxExtent": 0}},
            "detail": {"field": "series"}
          }
        }
      ],
      "resolve": {"axis": {"x": "independent", "y": "independent"}}
    }
  ]
}
